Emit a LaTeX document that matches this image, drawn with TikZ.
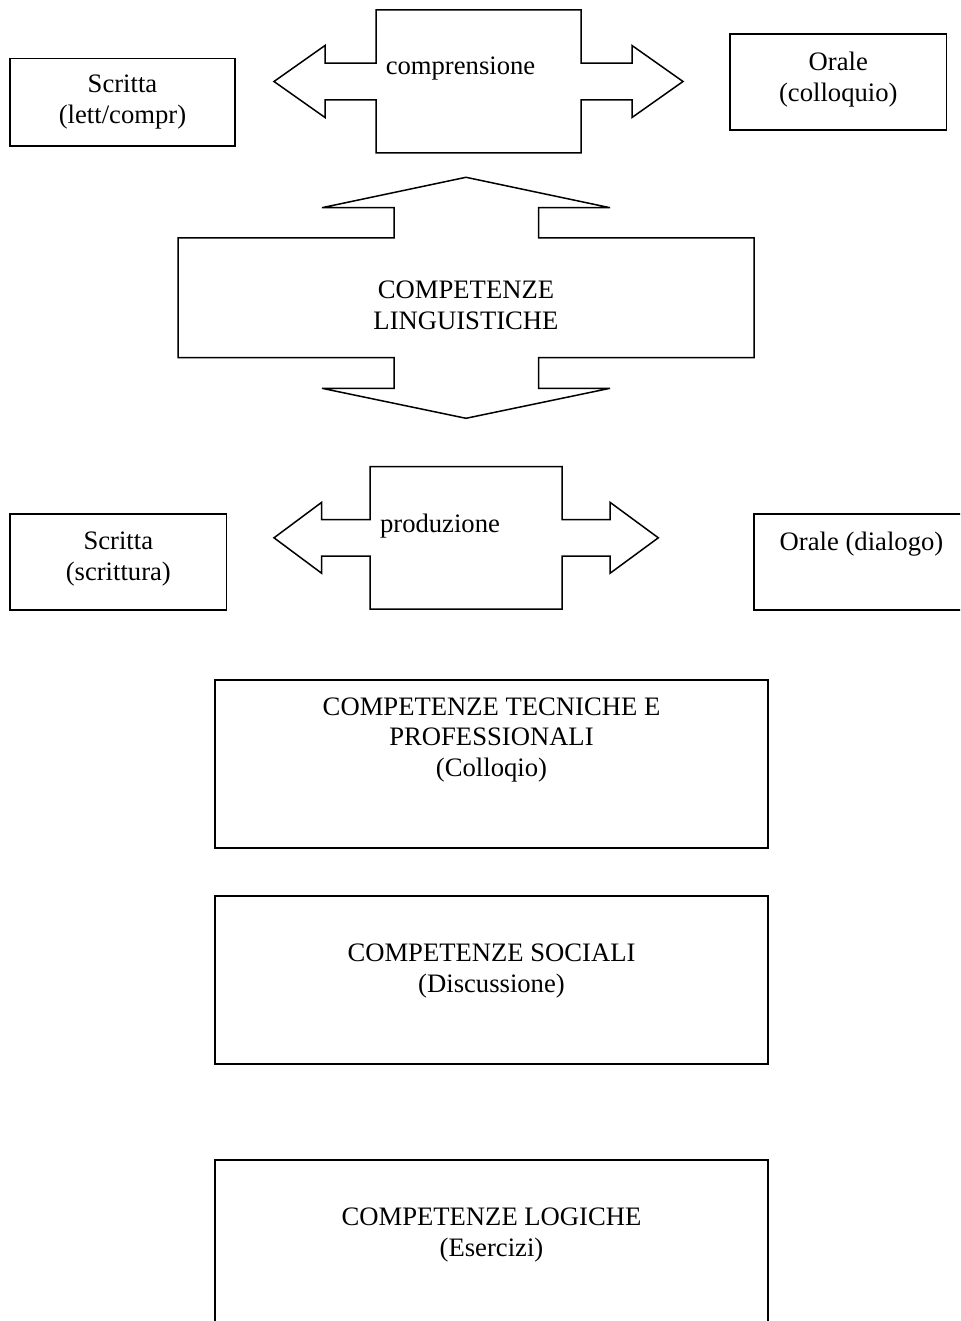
\documentclass[tikz,border=0pt]{standalone}
\usepackage{fontspec}
\setmainfont{Liberation Serif}
\usetikzlibrary{positioning}
\tikzset{outline/.style =
   {draw,
    line width=1.5pt,
    line join=miter,
    miter limit=6}}
\tikzset{panel/.style =
   {rectangle,
    draw,
    line width=1.5pt,
    inner sep=0pt}}
\tikzset{wordtext/.style =
   {align=center,
    inner sep=0pt,
    anchor=base,
    font=\fontsize{26.65}{30.65}\selectfont}}

\begin{document}
\begin{tikzpicture}[x=1pt, y=-1pt]

    \useasboundingbox (0,0) rectangle (960,1321);
    \clip (0,0) rectangle (960,1321);

    % comprensione
    \draw [outline] (376,10) -- (581,10) -- (581,63.2) -- (632,63.2)
     -- (632,45.5) -- (683,81.5) -- (632,117.5) -- (632,99.8)
     -- (581,99.8) -- (581,153) -- (376,153) -- (376,99.8)
     -- (325,99.8) -- (325,117.5) -- (274,81.5) -- (325,45.5)
     -- (325,63.2) -- (376,63.2) -- cycle;
    \node [wordtext] (compr) at (460.5,75) {comprensione};

    \node [panel, minimum width=225pt, minimum height=87.7pt] (scrlett) at (122.5,102.2) {};
    \node [wordtext] (scrletttxt) at (122.5,123.3) {Scritta\\(lett/compr)};

    \node [panel, minimum width=216.7pt, minimum height=96pt] (orcoll) at (838.3,82) {};
    \node [wordtext] (orcolltxt) at (838.3,101.2) {Orale\\(colloquio)};

    % competenze linguistiche
    \draw [outline] (466,177.3) -- (610,207.7) -- (538.5,207.7) -- (538.5,238)
     -- (754,238) -- (754,357.7) -- (538.5,357.7) -- (538.5,388.3)
     -- (610,388.3) -- (466,418.3) -- (322,388.3) -- (394,388.3)
     -- (394,357.7) -- (178,357.7) -- (178,238) -- (394,238)
     -- (394,207.7) -- (322,207.7) -- cycle;
    \node [wordtext] (ling) at (466,329) {COMPETENZE\\LINGUISTICHE};

    % produzione
    \draw [outline] (370,466.7) -- (562,466.7) -- (562,519.5) -- (610,519.5)
     -- (610,502.3) -- (658.3,537.8) -- (610,573.3) -- (610,556)
     -- (562,556) -- (562,609) -- (370,609) -- (370,556)
     -- (321.7,556) -- (321.7,573.3) -- (274,537.8) -- (321.7,502.3)
     -- (321.7,519.5) -- (370,519.5) -- cycle;
    \node [wordtext] (prod) at (440,532) {produzione};

    \node [panel, minimum width=216.7pt, minimum height=96pt] (scrscr) at (118.3,562) {};
    \node [wordtext] (scrscrtxt) at (118.3,580.6) {Scritta\\(scrittura)};

    \node [panel, minimum width=215pt, minimum height=96pt] (ordial) at (861.5,562) {};
    \node [wordtext] (ordialtxt) at (861.5,550) {Orale (dialogo)};

    % altre competenze
    \node [panel, minimum width=553pt, minimum height=168pt] (tecn) at (491.5,764) {};
    \node [wordtext] (tecntxt) at (491.5,776.5) {COMPETENZE TECNICHE E\\PROFESSIONALI\\(Colloqio)};

    \node [panel, minimum width=553pt, minimum height=168pt] (soc) at (491.5,980) {};
    \node [wordtext] (soctxt) at (491.5,992) {COMPETENZE SOCIALI\\(Discussione)};

    \node [panel, minimum width=553pt, minimum height=168pt] (logic) at (491.5,1244) {};
    \node [wordtext] (logictxt) at (491.5,1256) {COMPETENZE LOGICHE\\(Esercizi)};

\end{tikzpicture}
\end{document}
